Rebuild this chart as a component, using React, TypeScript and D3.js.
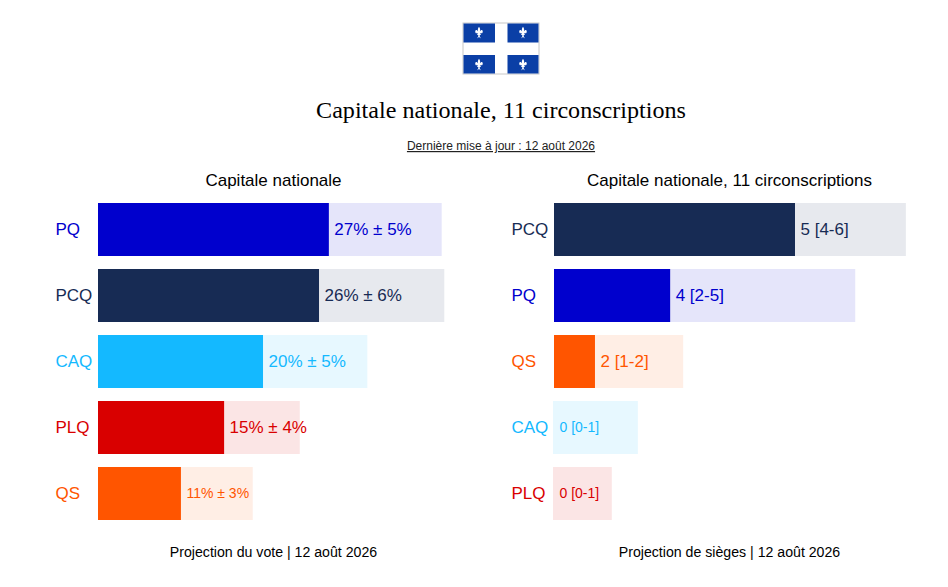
import React from "react";
import * as d3 from "d3";

const voteParties = ["PQ", "PCQ", "CAQ", "PLQ", "QS"];
const voteMeans = [27.0, 25.85, 19.3, 14.75, 9.7];
const voteUppers = [40.2, 40.5, 31.5, 23.6, 18.1];
const voteLabels = ["27% ± 5%", "26% ± 6%", "20% ± 5%", "15% ± 4%", "11% ± 3%"];
const voteLabelSizes = [17, 17, 17, 17, 14];

const seatParties = ["PCQ", "PQ", "QS", "CAQ", "PLQ"];
const seatMeans = [5.0, 2.41, 0.85, 0, 0];
const seatUppers = [7.3, 6.25, 2.68, 1.74, 1.2];
const seatLabels = ["5 [4-6]", "4 [2-5]", "2 [1-2]", "0 [0-1]", "0 [0-1]"];
const seatLabelSizes = [17, 17, 17, 14, 14];

const partyColors: Record<string, string> = {
  PQ: "#0000CD",
  PCQ: "#172B54",
  CAQ: "#14B9FF",
  PLQ: "#D90000",
  QS: "#FF5500",
};

const W = 948;
const H = 587;
const SANS = "'Liberation Sans', Arial, sans-serif";
const FLEUR =
  "M0,-6.5 C1.8,-4.6 2,-3 1.1,-0.8 C1.6,-2.6 3.2,-3.8 4.6,-2.8 C5.8,-1.8 5.2,0.2 3.8,0.6 C3.2,-0.4 2.6,-0.4 2.2,0.4 L1,1 L2.4,1 L2.4,2.2 L0.9,2.2 C1,3.4 1.4,4.6 2.4,5.6 C1,5.2 0.4,4.6 0,3.8 C-0.4,4.6 -1,5.2 -2.4,5.6 C-1.4,4.6 -1,3.4 -0.9,2.2 L-2.4,2.2 L-2.4,1 L-1,1 L-2.2,0.4 C-2.6,-0.4 -3.2,-0.4 -3.8,0.6 C-5.2,0.2 -5.8,-1.8 -4.6,-2.8 C-3.2,-3.8 -1.6,-2.6 -1.1,-0.8 C-2,-3 -1.8,-4.6 0,-6.5 Z";

type PanelProps = {
  parties: string[];
  means: number[];
  uppers: number[];
  labels: string[];
  sizes: number[];
  x0: number;
  pxPerUnit: number;
  labelX: number;
  title: string;
  titleX: number;
  footer: string;
  footerX: number;
};

function Panel(p: PanelProps) {
  const maxU = d3.max(p.uppers) as number;
  const x = d3.scaleLinear().domain([0, maxU]).range([p.x0, p.x0 + maxU * p.pxPerUnit]);
  const y = d3.scaleBand().domain(p.parties).range([203, 520]).paddingInner(13 / 66);
  return (
    <g>
      <text x={p.titleX} y={186} textAnchor="middle" fontFamily={SANS} fontSize={17} fill="#000">
        {p.title}
      </text>
      {p.parties.map((name, i) => {
        const c = partyColors[name];
        const yy = y(name) as number;
        const bh = y.bandwidth();
        const edge = p.means[i] === 0 ? x(0) - 1 : x(0);
        return (
          <g key={name}>
            <rect x={edge} y={yy} width={x(p.uppers[i]) - edge} height={bh} fill={c} fillOpacity={0.1} />
            <rect x={x(0)} y={yy} width={x(p.means[i]) - x(0)} height={bh} fill={c} />
            <text x={p.labelX} y={yy + bh / 2} dy="0.35em" fontFamily={SANS} fontSize={17} fill={c}>
              {name}
            </text>
            <text
              x={x(p.means[i]) + 5.5}
              y={yy + bh / 2}
              dy="0.35em"
              fontFamily={SANS}
              fontSize={p.sizes[i]}
              fill={c}
            >
              {p.labels[i]}
            </text>
          </g>
        );
      })}
      <text x={p.footerX} y={557} textAnchor="middle" fontFamily={SANS} fontSize={14.15} fill="#000">
        {p.footer}
      </text>
    </g>
  );
}

export default function App() {
  const flagX = 463;
  const flagY = 23;
  const cantons: [number, number][] = [
    [flagX + 16, flagY + 10],
    [flagX + 60, flagY + 10],
    [flagX + 16, flagY + 42],
    [flagX + 60, flagY + 42],
  ];
  return (
    <svg
      width={W}
      height={H}
      viewBox={`0 0 ${W} ${H}`}
      style={{ position: "absolute", left: 0, top: 0, background: "#fff" }}
    >
      <g>
        <rect x={flagX} y={flagY} width={76} height={51} fill="#fff" stroke="#c8c8c8" strokeWidth={1} />
        <rect x={flagX + 0.5} y={flagY + 0.5} width={31.5} height={19} fill="#0B3FA6" />
        <rect x={flagX + 44.5} y={flagY + 0.5} width={31} height={19} fill="#0B3FA6" />
        <rect x={flagX + 0.5} y={flagY + 32} width={31.5} height={18.5} fill="#0B3FA6" />
        <rect x={flagX + 44.5} y={flagY + 32} width={31} height={18.5} fill="#0B3FA6" />
        {cantons.map(([cx, cy], i) => (
          <path key={i} d={FLEUR} transform={`translate(${cx},${cy}) scale(0.72,0.95)`} fill="#fff" />
        ))}
      </g>
      <text x={501} y={118} textAnchor="middle" fontFamily="'Liberation Serif', serif" fontSize={24.1} fill="#000">
        Capitale nationale, 11 circonscriptions
      </text>
      <text
        x={501}
        y={150}
        textAnchor="middle"
        fontFamily={SANS}
        fontSize={12}
        fill="#222"
        textDecoration="underline"
      >
        Dernière mise à jour : 12 août 2026
      </text>
      <Panel
        parties={voteParties}
        means={voteMeans}
        uppers={voteUppers}
        labels={voteLabels}
        sizes={voteLabelSizes}
        x0={98}
        pxPerUnit={8.55}
        labelX={55.5}
        title="Capitale nationale"
        titleX={273.5}
        footer="Projection du vote | 12 août 2026"
        footerX={273.5}
      />
      <Panel
        parties={seatParties}
        means={seatMeans}
        uppers={seatUppers}
        labels={seatLabels}
        sizes={seatLabelSizes}
        x0={554}
        pxPerUnit={48.2}
        labelX={511.5}
        title="Capitale nationale, 11 circonscriptions"
        titleX={729.5}
        footer="Projection de sièges | 12 août 2026"
        footerX={729.5}
      />
    </svg>
  );
}
